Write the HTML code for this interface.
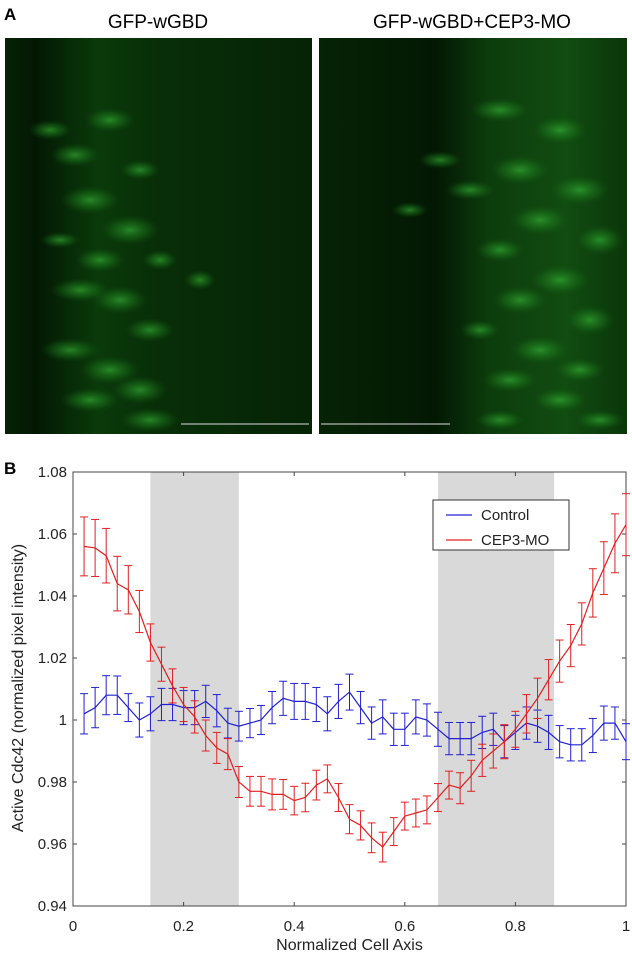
<!DOCTYPE html>
<html><head><meta charset="utf-8"><style>
body{margin:0;background:#fff;width:632px;height:956px;overflow:hidden;font-family:"Liberation Sans",Arial,sans-serif}
svg{display:block}
</style></head><body>
<svg width="632" height="956" viewBox="0 0 632 956">
<defs>
<radialGradient id="gl" cx="50%" cy="50%" r="50%"><stop offset="0" stop-color="#3cc03c" stop-opacity="0.6"/><stop offset="0.6" stop-color="#208a20" stop-opacity="0.3"/><stop offset="1" stop-color="#145a14" stop-opacity="0"/></radialGradient>
<linearGradient id="bgL" x1="0" x2="1"><stop offset="0" stop-color="#052205"/><stop offset="0.1" stop-color="#031803"/><stop offset="0.3" stop-color="#0a3a0a"/><stop offset="0.5" stop-color="#082e08"/><stop offset="1" stop-color="#052305"/></linearGradient>
<linearGradient id="bgR" x1="0" x2="1"><stop offset="0" stop-color="#062306"/><stop offset="0.38" stop-color="#031803"/><stop offset="0.55" stop-color="#0c3c0c"/><stop offset="0.8" stop-color="#114c11"/><stop offset="1" stop-color="#0a360a"/></linearGradient>
</defs>
<text x="4" y="20" font-size="17" font-weight="bold">A</text>
<text x="158" y="28" font-size="19" text-anchor="middle">GFP-wGBD</text>
<text x="472" y="28" font-size="19" text-anchor="middle">GFP-wGBD+CEP3-MO</text>
<g>
<rect x="5" y="38" width="307" height="396" fill="url(#bgL)"/>
<g id="cellsL"></g>
<line x1="181" y1="424" x2="309" y2="424" stroke="#ddd" stroke-width="1"/>
</g>
<g>
<rect x="319" y="38" width="308" height="396" fill="url(#bgR)"/>
<g id="cellsR"></g>
<line x1="321" y1="424" x2="450" y2="424" stroke="#ddd" stroke-width="1"/>
</g>
<text x="4" y="474" font-size="17" font-weight="bold">B</text>
<g id="chart"></g>
</svg>
<script>
const xs=[0.02,0.04,0.06,0.08,0.10,0.12,0.14,0.16,0.18,0.20,0.22,0.24,0.26,0.28,0.30,0.32,0.34,0.36,0.38,0.40,0.42,0.44,0.46,0.48,0.50,0.52,0.54,0.56,0.58,0.60,0.62,0.64,0.66,0.68,0.70,0.72,0.74,0.76,0.78,0.80,0.82,0.84,0.86,0.88,0.90,0.92,0.94,0.96,0.98,1.00];
const control=[1.002,1.004,1.008,1.008,1.004,1.000,1.002,1.005,1.005,1.004,1.004,1.006,1.003,0.999,0.998,0.999,1.000,1.004,1.007,1.006,1.006,1.005,1.002,1.006,1.009,1.004,0.999,1.001,0.997,0.997,1.001,1.000,0.997,0.994,0.994,0.994,0.996,0.997,0.993,0.996,0.999,0.998,0.996,0.993,0.992,0.992,0.995,0.999,0.999,0.993];
const controlErr=[0.0065,0.0065,0.0063,0.0062,0.0045,0.0055,0.0055,0.0052,0.0052,0.0055,0.0055,0.0052,0.0052,0.0048,0.0048,0.0047,0.0047,0.0052,0.0055,0.0058,0.0058,0.0055,0.0055,0.0055,0.0058,0.0052,0.0052,0.0055,0.0052,0.0052,0.0055,0.0052,0.0055,0.0052,0.0052,0.0052,0.0052,0.0052,0.0052,0.0055,0.0052,0.0052,0.0055,0.0052,0.0052,0.0052,0.0055,0.0055,0.0052,0.0058];
const cep3=[1.056,1.0555,1.053,1.044,1.042,1.035,1.025,1.018,1.011,1.005,1.001,0.995,0.991,0.989,0.980,0.977,0.977,0.976,0.976,0.974,0.975,0.979,0.981,0.975,0.968,0.966,0.962,0.959,0.964,0.969,0.970,0.971,0.975,0.979,0.978,0.982,0.987,0.990,0.993,0.997,1.002,1.007,1.013,1.019,1.024,1.031,1.041,1.049,1.057,1.063];
const cep3Err=[0.0095,0.0092,0.0088,0.0088,0.0078,0.0068,0.006,0.0055,0.0055,0.0055,0.0052,0.005,0.005,0.005,0.005,0.0048,0.0048,0.005,0.0048,0.0046,0.0046,0.0048,0.0045,0.0045,0.0047,0.0047,0.0048,0.0048,0.0045,0.0045,0.0045,0.0045,0.0045,0.0045,0.005,0.005,0.0052,0.0055,0.0055,0.0058,0.0062,0.0065,0.0065,0.0068,0.0068,0.0068,0.0078,0.0085,0.0095,0.01];
const shadeBands=[[0.14,0.30],[0.66,0.87]];
const xTicks=[0,0.2,0.4,0.6,0.8,1];
const xTickLabels=["0","0.2","0.4","0.6","0.8","1"];
const yTicks=[0.94,0.96,0.98,1.00,1.02,1.04,1.06,1.08];
const yTickLabels=["0.94","0.96","0.98","1","1.02","1.04","1.06","1.08"];

const NS="http://www.w3.org/2000/svg";
const L=73,R=626,T=472,B=906;
const sx=v=>L+(v-0)/(1-0)*(R-L);
const sy=v=>B-(v-0.94)/(0.14)*(B-T);
const chart=document.getElementById('chart');
function mk(tag,attrs,parent){const e=document.createElementNS(NS,tag);for(const k in attrs)e.setAttribute(k,attrs[k]);(parent||chart).appendChild(e);return e;}

shadeBands.forEach((b,i)=>{
 const r=mk('rect',{x:sx(b[0]),y:T,width:sx(b[1])-sx(b[0]),height:B-T,fill:'#d9d9d9'});
 
 
});
const frame=mk('rect',{x:L,y:T,width:R-L,height:B-T,fill:'none',stroke:'#444','stroke-width':1});


xTicks.forEach((t,i)=>{
 mk('line',{x1:sx(t),x2:sx(t),y1:B,y2:B-4,stroke:'#444'});
 mk('line',{x1:sx(t),x2:sx(t),y1:T,y2:T+4,stroke:'#444'});
 const tx=mk('text',{x:sx(t),y:B+25,'font-size':15,'text-anchor':'middle',fill:'#222'});
 tx.textContent=xTickLabels[i];
 
 
});
yTicks.forEach((t,i)=>{
 mk('line',{x1:L,x2:L+4,y1:sy(t),y2:sy(t),stroke:'#444'});
 mk('line',{x1:R,x2:R-4,y1:sy(t),y2:sy(t),stroke:'#444'});
 const tx=mk('text',{x:L-6,y:sy(t)+5,'font-size':15,'text-anchor':'end',fill:'#222'});
 tx.textContent=yTickLabels[i];
 
 
});
const xt=mk('text',{x:(L+R)/2,y:950,'font-size':16,'text-anchor':'middle',fill:'#222'});
xt.textContent='Normalized Cell Axis';


const yt=mk('text',{x:0,y:0,'font-size':16,'text-anchor':'middle',fill:'#222',transform:'translate(23,'+((T+B)/2-1)+') rotate(-90)'});
yt.textContent='Active Cdc42 (normalized pixel intensity)';



function series(vals,errs,color,name){
 const g=mk('g',{});
 
 
 vals.forEach((v,i)=>{
  const x=sx(xs[i]),y1=sy(v+errs[i]),y2=sy(v-errs[i]);
  mk('line',{x1:x,x2:x,y1:y1,y2:y2,stroke:color,'stroke-width':1},g);
  mk('line',{x1:x-4,x2:x+4,y1:y1,y2:y1,stroke:color,'stroke-width':1},g);
  mk('line',{x1:x-4,x2:x+4,y1:y2,y2:y2,stroke:color,'stroke-width':1},g);
 });
 const p=mk('polyline',{points:vals.map((v,i)=>sx(xs[i])+','+sy(v)).join(' '),fill:'none',stroke:color,'stroke-width':1.2},g);
 
 
}
series(control,controlErr,'#2020d0','control');
series(cep3,cep3Err,'#e02020','cep3-mo');

const lg=mk('g',{});


mk('rect',{x:433,y:500,width:136,height:50,fill:'#fff',stroke:'#333','stroke-width':1},lg);
[['Control','#2020d0',516],['CEP3-MO','#e02020',541]].forEach(([t,c,y])=>{
 const e=mk('g',{},lg);
 
 
 mk('line',{x1:446,x2:472,y1:y-1,y2:y-1,stroke:c,'stroke-width':1.2},e);
 const tx=mk('text',{x:481,y:y+4,'font-size':15,fill:'#222'},e);tx.textContent=t;
});

// micrograph glow blobs (decorative)
const blobsL=[[50,130,22,10],[75,155,25,12],[110,120,25,12],[90,200,30,14],[130,230,30,15],[100,260,25,12],[80,290,30,12],[120,300,28,14],[150,330,25,12],[70,350,30,12],[110,370,30,14],[140,390,28,14],[90,400,30,12],[150,420,30,12],[160,260,18,10],[200,280,16,10],[60,240,20,8],[140,170,20,10]];
const blobsR=[[500,110,30,12],[560,130,28,14],[520,170,30,15],[580,190,30,15],[470,190,25,10],[540,220,30,15],[600,240,25,15],[500,250,25,12],[560,280,30,15],[520,300,28,14],[590,320,25,15],[480,330,20,10],[540,350,30,14],[580,370,25,12],[510,380,28,12],[560,400,28,12],[500,420,25,10],[600,420,25,10],[440,160,22,9],[410,210,18,8]];
function blobs(id,arr){const g=document.getElementById(id);arr.forEach(b=>{const e=document.createElementNS(NS,'ellipse');e.setAttribute('cx',b[0]);e.setAttribute('cy',b[1]);e.setAttribute('rx',b[2]);e.setAttribute('ry',b[3]);e.setAttribute('fill','url(#gl)');g.appendChild(e);});}
blobs('cellsL',blobsL);blobs('cellsR',blobsR);
</script>
</body></html>
